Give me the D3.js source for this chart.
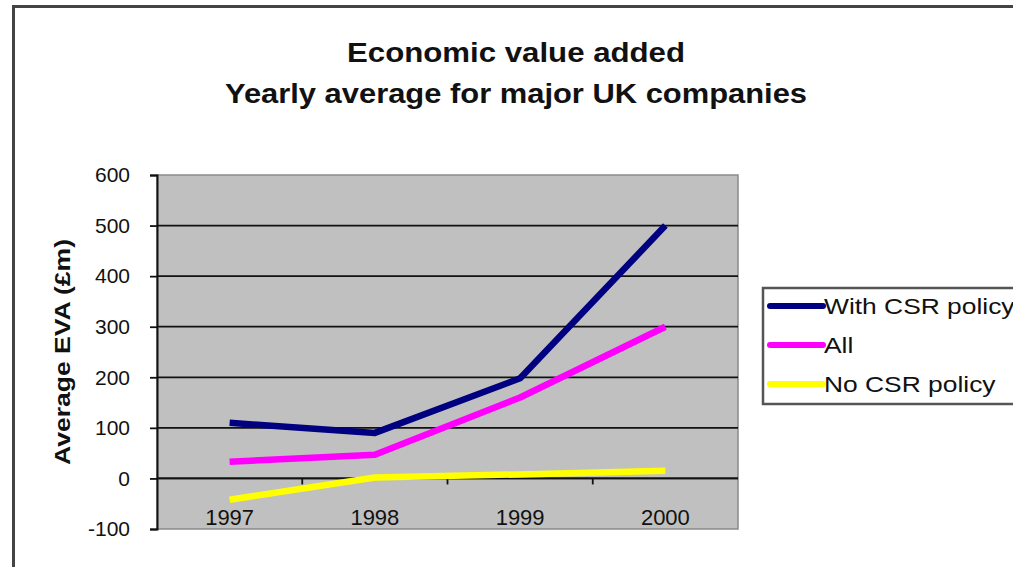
<!DOCTYPE html>
<html>
<head>
<meta charset="utf-8">
<script src="https://cdn.jsdelivr.net/npm/d3@7"></script>
<style>
  body { margin: 0; background: #fff; }
  svg { display: block; }
  text { font-family: "Liberation Sans", Arial, sans-serif; fill: #111; }
</style>
</head>
<body>
<div id="chart"></div>
<script>
// data
var years = ["1997", "1998", "1999", "2000"];
var withCsr = [110, 90, 198, 500];
var allCos = [33, 47, 160, 300];
var noCsr = [-42, 2, 8, 15];
var yTicks = [-100, 0, 100, 200, 300, 400, 500, 600];
var seriesNames = ["With CSR policy", "All", "No CSR policy"];

var color = {"With CSR policy": "#000080", "All": "#ff00ff", "No CSR policy": "#ffff00"};
var series = [
  {name: "With CSR policy", values: withCsr},
  {name: "All", values: allCos},
  {name: "No CSR policy", values: noCsr}
];

var W = 1013, H = 567;
var svg = d3.select("#chart").append("svg").attr("width", W).attr("height", H);

// outer chart frame
svg.append("rect").attr("x", 13.5).attr("y", 6.5).attr("width", 1100).attr("height", 700)
  .attr("fill", "#fff").attr("stroke", "#444").attr("stroke-width", 3);

// title
svg.append("text").attr("x", 516).attr("y", 62).attr("text-anchor", "middle")
  .style("font-size", "28px").style("font-weight", "bold")
  .attr("textLength", 338).attr("lengthAdjust", "spacingAndGlyphs")
  .text("Economic value added");
svg.append("text").attr("x", 516).attr("y", 103).attr("text-anchor", "middle")
  .style("font-size", "28px").style("font-weight", "bold")
  .attr("textLength", 582).attr("lengthAdjust", "spacingAndGlyphs")
  .text("Yearly average for major UK companies");

var plotL = 157, plotR = 738, plotT = 175, plotB = 529;
var x = d3.scaleBand().domain(years).range([plotL, plotR]).padding(0);
var y = d3.scaleLinear().domain([-100, 600]).range([plotB, plotT]);

// plot area
svg.append("rect").attr("x", plotL).attr("y", plotT).attr("width", plotR - plotL).attr("height", plotB - plotT)
  .attr("fill", "#c0c0c0").attr("stroke", "#8a8a8a").attr("stroke-width", 1.5);

// gridlines
svg.append("g").selectAll("line").data(yTicks.filter(d => d > -100 && d < 600)).join("line")
  .attr("x1", plotL).attr("x2", plotR)
  .attr("y1", d => y(d)).attr("y2", d => y(d))
  .attr("stroke", "#111").attr("stroke-width", 1.8);

// y axis
var yAxis = d3.axisLeft(y).tickValues(yTicks).tickSize(7).tickPadding(20).tickFormat(d => String(d));
var gy = svg.append("g").attr("transform", "translate(" + plotL + ",0)").call(yAxis);
gy.select(".domain").attr("stroke", "#111").attr("stroke-width", 2);
gy.selectAll(".tick line").attr("stroke", "#111").attr("stroke-width", 1.8);
gy.selectAll(".tick text").style("font-size", "21px").attr("fill", "#111")
  .style("font-family", "'Liberation Sans', Arial, sans-serif");

// x axis at zero, ticks between categories
svg.append("line").attr("x1", plotL).attr("x2", plotR).attr("y1", y(0)).attr("y2", y(0))
  .attr("stroke", "#111").attr("stroke-width", 1.8);
svg.append("g").selectAll("line").data(years.slice(1)).join("line")
  .attr("x1", d => x(d)).attr("x2", d => x(d))
  .attr("y1", y(0)).attr("y2", y(0) + 6)
  .attr("stroke", "#111").attr("stroke-width", 1.8);
svg.append("g").selectAll("text").data(years).join("text")
  .attr("x", d => x(d) + x.bandwidth() / 2).attr("y", 525)
  .attr("text-anchor", "middle").style("font-size", "22px")
  .text(d => d);

// y axis title
svg.append("text").attr("transform", "translate(70,352) rotate(-90)")
  .attr("text-anchor", "middle").style("font-size", "22px").style("font-weight", "bold")
  .attr("textLength", 226).attr("lengthAdjust", "spacingAndGlyphs")
  .text("Average EVA (£m)");

// lines
var line = d3.line()
  .x((d, i) => x(years[i]) + x.bandwidth() / 2)
  .y(d => y(d));
svg.append("g").selectAll("path").data(series.slice().reverse()).join("path")
  .attr("d", d => line(d.values))
  .attr("fill", "none").attr("stroke", d => color[d.name])
  .attr("stroke-width", 6.5).attr("stroke-linejoin", "round");

// legend
var lg = svg.append("g").attr("transform", "translate(763,288)");
lg.append("rect").attr("x", 0).attr("y", 0).attr("width", 300).attr("height", 116)
  .attr("fill", "#fff").attr("stroke", "#555").attr("stroke-width", 2.5);
var rows = lg.selectAll("g").data(seriesNames).join("g")
  .attr("transform", (d, i) => "translate(0," + (18 + i * 39) + ")");
rows.append("line").attr("x1", 7).attr("x2", 60).attr("y1", 0).attr("y2", 0)
  .attr("stroke", d => color[d]).attr("stroke-width", 6).attr("stroke-linecap", "round");
rows.append("text").attr("transform", "translate(61,8) scale(1.2,1)")
  .style("font-size", "22px")
  .text(d => d);
</script>
</body>
</html>
